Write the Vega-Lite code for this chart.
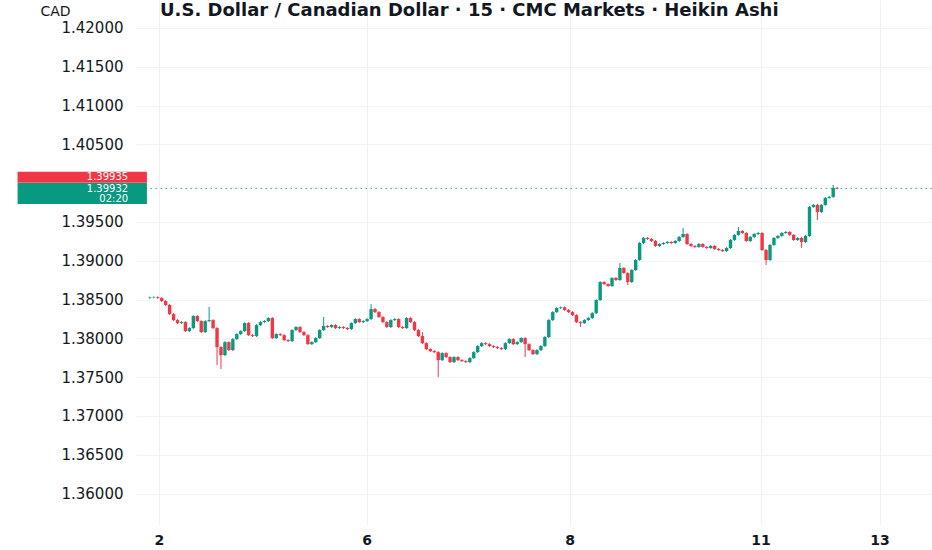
{
  "$schema": "https://vega.github.io/schema/vega-lite/v6.json",
  "width": 796,
  "height": 525,
  "autosize": {"type": "none"},
  "padding": {"left": 136, "top": 0, "right": 0, "bottom": 25},
  "background": "#ffffff",
  "title": {
    "text": "U.S. Dollar / Canadian Dollar · 15 · CMC Markets · Heikin Ashi",
    "anchor": "start", "frame": "group", "offset": -20, "dx": 24,
    "font": "DejaVu Sans", "fontSize": 18, "fontWeight": "bold", "color": "#131722"
  },
  "datasets": {
    "bars": [
      {"i":0,"o":1.38520,"h":1.38538,"l":1.38508,"c":1.38526},
      {"i":1,"o":1.38526,"h":1.38542,"l":1.38514,"c":1.38530},
      {"i":2,"o":1.38530,"h":1.38542,"l":1.38508,"c":1.38520},
      {"i":3,"o":1.38520,"h":1.38532,"l":1.38469,"c":1.38481},
      {"i":4,"o":1.38481,"h":1.38493,"l":1.38418,"c":1.38430},
      {"i":5,"o":1.38430,"h":1.38442,"l":1.38301,"c":1.38313},
      {"i":6,"o":1.38313,"h":1.38325,"l":1.38224,"c":1.38236},
      {"i":7,"o":1.38236,"h":1.38248,"l":1.38185,"c":1.38197},
      {"i":8,"o":1.38197,"h":1.38222,"l":1.38185,"c":1.38210},
      {"i":9,"o":1.38210,"h":1.38222,"l":1.38082,"c":1.38094},
      {"i":10,"o":1.38094,"h":1.38145,"l":1.38082,"c":1.38133},
      {"i":11,"o":1.38133,"h":1.38300,"l":1.38121,"c":1.38288},
      {"i":12,"o":1.38288,"h":1.38300,"l":1.38211,"c":1.38223},
      {"i":13,"o":1.38223,"h":1.38235,"l":1.38069,"c":1.38081},
      {"i":14,"o":1.38081,"h":1.38235,"l":1.38069,"c":1.38223},
      {"i":15,"o":1.38223,"h":1.38404,"l":1.38211,"c":1.38236},
      {"i":16,"o":1.38236,"h":1.38248,"l":1.38121,"c":1.38133},
      {"i":17,"o":1.38133,"h":1.38145,"l":1.37655,"c":1.37888},
      {"i":18,"o":1.37888,"h":1.37900,"l":1.37604,"c":1.37784},
      {"i":19,"o":1.37784,"h":1.37964,"l":1.37772,"c":1.37952},
      {"i":20,"o":1.37952,"h":1.37964,"l":1.37837,"c":1.37849},
      {"i":21,"o":1.37849,"h":1.38003,"l":1.37837,"c":1.37991},
      {"i":22,"o":1.37991,"h":1.38067,"l":1.37979,"c":1.38055},
      {"i":23,"o":1.38055,"h":1.38106,"l":1.38043,"c":1.38094},
      {"i":24,"o":1.38094,"h":1.38209,"l":1.38082,"c":1.38197},
      {"i":25,"o":1.38197,"h":1.38209,"l":1.38030,"c":1.38042},
      {"i":26,"o":1.38042,"h":1.38054,"l":1.38018,"c":1.38030},
      {"i":27,"o":1.38030,"h":1.38183,"l":1.38018,"c":1.38171},
      {"i":28,"o":1.38171,"h":1.38222,"l":1.38159,"c":1.38210},
      {"i":29,"o":1.38210,"h":1.38235,"l":1.38198,"c":1.38223},
      {"i":30,"o":1.38223,"h":1.38274,"l":1.38211,"c":1.38262},
      {"i":31,"o":1.38262,"h":1.38274,"l":1.37992,"c":1.38004},
      {"i":32,"o":1.38004,"h":1.38067,"l":1.37992,"c":1.38055},
      {"i":33,"o":1.38055,"h":1.38067,"l":1.38030,"c":1.38042},
      {"i":34,"o":1.38042,"h":1.38054,"l":1.37966,"c":1.37978},
      {"i":35,"o":1.37978,"h":1.37990,"l":1.37953,"c":1.37965},
      {"i":36,"o":1.37965,"h":1.38119,"l":1.37953,"c":1.38107},
      {"i":37,"o":1.38107,"h":1.38158,"l":1.38095,"c":1.38146},
      {"i":38,"o":1.38146,"h":1.38158,"l":1.38069,"c":1.38081},
      {"i":39,"o":1.38081,"h":1.38093,"l":1.38030,"c":1.38042},
      {"i":40,"o":1.38042,"h":1.38054,"l":1.37914,"c":1.37926},
      {"i":41,"o":1.37926,"h":1.37964,"l":1.37914,"c":1.37952},
      {"i":42,"o":1.37952,"h":1.38016,"l":1.37940,"c":1.38004},
      {"i":43,"o":1.38004,"h":1.38119,"l":1.37992,"c":1.38107},
      {"i":44,"o":1.38107,"h":1.38275,"l":1.38095,"c":1.38159},
      {"i":45,"o":1.38159,"h":1.38171,"l":1.38134,"c":1.38146},
      {"i":46,"o":1.38146,"h":1.38183,"l":1.38134,"c":1.38171},
      {"i":47,"o":1.38171,"h":1.38183,"l":1.38121,"c":1.38133},
      {"i":48,"o":1.38133,"h":1.38158,"l":1.38121,"c":1.38146},
      {"i":49,"o":1.38146,"h":1.38158,"l":1.38121,"c":1.38133},
      {"i":50,"o":1.38133,"h":1.38145,"l":1.38108,"c":1.38120},
      {"i":51,"o":1.38120,"h":1.38209,"l":1.38108,"c":1.38197},
      {"i":52,"o":1.38197,"h":1.38261,"l":1.38185,"c":1.38249},
      {"i":53,"o":1.38249,"h":1.38261,"l":1.38198,"c":1.38210},
      {"i":54,"o":1.38210,"h":1.38235,"l":1.38198,"c":1.38223},
      {"i":55,"o":1.38223,"h":1.38261,"l":1.38211,"c":1.38249},
      {"i":56,"o":1.38249,"h":1.38442,"l":1.38237,"c":1.38378},
      {"i":57,"o":1.38378,"h":1.38390,"l":1.38327,"c":1.38339},
      {"i":58,"o":1.38339,"h":1.38351,"l":1.38263,"c":1.38275},
      {"i":59,"o":1.38275,"h":1.38287,"l":1.38198,"c":1.38210},
      {"i":60,"o":1.38210,"h":1.38222,"l":1.38134,"c":1.38146},
      {"i":61,"o":1.38146,"h":1.38248,"l":1.38134,"c":1.38236},
      {"i":62,"o":1.38236,"h":1.38261,"l":1.38224,"c":1.38249},
      {"i":63,"o":1.38249,"h":1.38261,"l":1.38134,"c":1.38146},
      {"i":64,"o":1.38146,"h":1.38158,"l":1.38121,"c":1.38133},
      {"i":65,"o":1.38133,"h":1.38274,"l":1.38121,"c":1.38262},
      {"i":66,"o":1.38262,"h":1.38274,"l":1.38198,"c":1.38210},
      {"i":67,"o":1.38210,"h":1.38222,"l":1.38095,"c":1.38107},
      {"i":68,"o":1.38107,"h":1.38119,"l":1.38018,"c":1.38030},
      {"i":69,"o":1.38030,"h":1.38081,"l":1.37927,"c":1.37939},
      {"i":70,"o":1.37939,"h":1.37951,"l":1.37850,"c":1.37862},
      {"i":71,"o":1.37862,"h":1.37874,"l":1.37824,"c":1.37836},
      {"i":72,"o":1.37836,"h":1.37848,"l":1.37811,"c":1.37823},
      {"i":73,"o":1.37823,"h":1.37835,"l":1.37501,"c":1.37720},
      {"i":74,"o":1.37720,"h":1.37822,"l":1.37708,"c":1.37810},
      {"i":75,"o":1.37810,"h":1.37822,"l":1.37747,"c":1.37759},
      {"i":76,"o":1.37759,"h":1.37771,"l":1.37682,"c":1.37694},
      {"i":77,"o":1.37694,"h":1.37771,"l":1.37682,"c":1.37759},
      {"i":78,"o":1.37759,"h":1.37771,"l":1.37708,"c":1.37720},
      {"i":79,"o":1.37720,"h":1.37732,"l":1.37695,"c":1.37707},
      {"i":80,"o":1.37707,"h":1.37719,"l":1.37682,"c":1.37694},
      {"i":81,"o":1.37694,"h":1.37758,"l":1.37682,"c":1.37746},
      {"i":82,"o":1.37746,"h":1.37835,"l":1.37734,"c":1.37823},
      {"i":83,"o":1.37823,"h":1.37913,"l":1.37811,"c":1.37901},
      {"i":84,"o":1.37901,"h":1.37951,"l":1.37889,"c":1.37939},
      {"i":85,"o":1.37939,"h":1.37951,"l":1.37914,"c":1.37926},
      {"i":86,"o":1.37926,"h":1.37938,"l":1.37889,"c":1.37901},
      {"i":87,"o":1.37901,"h":1.37913,"l":1.37876,"c":1.37888},
      {"i":88,"o":1.37888,"h":1.37900,"l":1.37863,"c":1.37875},
      {"i":89,"o":1.37875,"h":1.37887,"l":1.37850,"c":1.37862},
      {"i":90,"o":1.37862,"h":1.37951,"l":1.37850,"c":1.37939},
      {"i":91,"o":1.37939,"h":1.38003,"l":1.37927,"c":1.37991},
      {"i":92,"o":1.37991,"h":1.38003,"l":1.37914,"c":1.37926},
      {"i":93,"o":1.37926,"h":1.37964,"l":1.37914,"c":1.37952},
      {"i":94,"o":1.37952,"h":1.38016,"l":1.37940,"c":1.38004},
      {"i":95,"o":1.38004,"h":1.38016,"l":1.37759,"c":1.37926},
      {"i":96,"o":1.37926,"h":1.37938,"l":1.37837,"c":1.37849},
      {"i":97,"o":1.37849,"h":1.37861,"l":1.37785,"c":1.37797},
      {"i":98,"o":1.37797,"h":1.37861,"l":1.37785,"c":1.37849},
      {"i":99,"o":1.37849,"h":1.37913,"l":1.37837,"c":1.37901},
      {"i":100,"o":1.37901,"h":1.38029,"l":1.37889,"c":1.38017},
      {"i":101,"o":1.38017,"h":1.38248,"l":1.38005,"c":1.38236},
      {"i":102,"o":1.38236,"h":1.38351,"l":1.38224,"c":1.38339},
      {"i":103,"o":1.38339,"h":1.38403,"l":1.38327,"c":1.38391},
      {"i":104,"o":1.38391,"h":1.38412,"l":1.38379,"c":1.38400},
      {"i":105,"o":1.38400,"h":1.38412,"l":1.38353,"c":1.38365},
      {"i":106,"o":1.38365,"h":1.38377,"l":1.38327,"c":1.38339},
      {"i":107,"o":1.38339,"h":1.38351,"l":1.38288,"c":1.38300},
      {"i":108,"o":1.38300,"h":1.38312,"l":1.38198,"c":1.38210},
      {"i":109,"o":1.38210,"h":1.38222,"l":1.38146,"c":1.38197},
      {"i":110,"o":1.38197,"h":1.38248,"l":1.38185,"c":1.38236},
      {"i":111,"o":1.38236,"h":1.38274,"l":1.38224,"c":1.38262},
      {"i":112,"o":1.38262,"h":1.38338,"l":1.38250,"c":1.38326},
      {"i":113,"o":1.38326,"h":1.38506,"l":1.38314,"c":1.38494},
      {"i":114,"o":1.38494,"h":1.38738,"l":1.38482,"c":1.38726},
      {"i":115,"o":1.38726,"h":1.38738,"l":1.38688,"c":1.38700},
      {"i":116,"o":1.38700,"h":1.38712,"l":1.38663,"c":1.38675},
      {"i":117,"o":1.38675,"h":1.38790,"l":1.38663,"c":1.38778},
      {"i":118,"o":1.38778,"h":1.38790,"l":1.38740,"c":1.38752},
      {"i":119,"o":1.38752,"h":1.38971,"l":1.38740,"c":1.38907},
      {"i":120,"o":1.38907,"h":1.38919,"l":1.38830,"c":1.38842},
      {"i":121,"o":1.38842,"h":1.38854,"l":1.38688,"c":1.38726},
      {"i":122,"o":1.38726,"h":1.38893,"l":1.38714,"c":1.38881},
      {"i":123,"o":1.38881,"h":1.39022,"l":1.38869,"c":1.39010},
      {"i":124,"o":1.39010,"h":1.39241,"l":1.38998,"c":1.39229},
      {"i":125,"o":1.39229,"h":1.39306,"l":1.39217,"c":1.39294},
      {"i":126,"o":1.39294,"h":1.39306,"l":1.39269,"c":1.39281},
      {"i":127,"o":1.39281,"h":1.39293,"l":1.39243,"c":1.39255},
      {"i":128,"o":1.39255,"h":1.39267,"l":1.39179,"c":1.39191},
      {"i":129,"o":1.39191,"h":1.39228,"l":1.39179,"c":1.39216},
      {"i":130,"o":1.39216,"h":1.39241,"l":1.39204,"c":1.39229},
      {"i":131,"o":1.39229,"h":1.39254,"l":1.39217,"c":1.39242},
      {"i":132,"o":1.39242,"h":1.39254,"l":1.39217,"c":1.39229},
      {"i":133,"o":1.39229,"h":1.39267,"l":1.39217,"c":1.39255},
      {"i":134,"o":1.39255,"h":1.39319,"l":1.39243,"c":1.39307},
      {"i":135,"o":1.39307,"h":1.39423,"l":1.39295,"c":1.39345},
      {"i":136,"o":1.39345,"h":1.39357,"l":1.39204,"c":1.39216},
      {"i":137,"o":1.39216,"h":1.39228,"l":1.39179,"c":1.39191},
      {"i":138,"o":1.39191,"h":1.39203,"l":1.39166,"c":1.39178},
      {"i":139,"o":1.39178,"h":1.39228,"l":1.39166,"c":1.39216},
      {"i":140,"o":1.39216,"h":1.39228,"l":1.39166,"c":1.39178},
      {"i":141,"o":1.39178,"h":1.39190,"l":1.39153,"c":1.39165},
      {"i":142,"o":1.39165,"h":1.39203,"l":1.39153,"c":1.39191},
      {"i":143,"o":1.39191,"h":1.39203,"l":1.39140,"c":1.39152},
      {"i":144,"o":1.39152,"h":1.39164,"l":1.39127,"c":1.39139},
      {"i":145,"o":1.39139,"h":1.39151,"l":1.39114,"c":1.39126},
      {"i":146,"o":1.39126,"h":1.39177,"l":1.39114,"c":1.39165},
      {"i":147,"o":1.39165,"h":1.39280,"l":1.39153,"c":1.39268},
      {"i":148,"o":1.39268,"h":1.39345,"l":1.39256,"c":1.39333},
      {"i":149,"o":1.39333,"h":1.39436,"l":1.39321,"c":1.39384},
      {"i":150,"o":1.39384,"h":1.39396,"l":1.39346,"c":1.39358},
      {"i":151,"o":1.39358,"h":1.39370,"l":1.39243,"c":1.39255},
      {"i":152,"o":1.39255,"h":1.39319,"l":1.39243,"c":1.39307},
      {"i":153,"o":1.39307,"h":1.39357,"l":1.39295,"c":1.39345},
      {"i":154,"o":1.39345,"h":1.39370,"l":1.39333,"c":1.39358},
      {"i":155,"o":1.39358,"h":1.39370,"l":1.39127,"c":1.39139},
      {"i":156,"o":1.39139,"h":1.39151,"l":1.38946,"c":1.39010},
      {"i":157,"o":1.39010,"h":1.39216,"l":1.38998,"c":1.39204},
      {"i":158,"o":1.39204,"h":1.39306,"l":1.39192,"c":1.39294},
      {"i":159,"o":1.39294,"h":1.39332,"l":1.39282,"c":1.39320},
      {"i":160,"o":1.39320,"h":1.39370,"l":1.39308,"c":1.39358},
      {"i":161,"o":1.39358,"h":1.39383,"l":1.39346,"c":1.39371},
      {"i":162,"o":1.39371,"h":1.39383,"l":1.39321,"c":1.39333},
      {"i":163,"o":1.39333,"h":1.39345,"l":1.39256,"c":1.39268},
      {"i":164,"o":1.39268,"h":1.39306,"l":1.39256,"c":1.39294},
      {"i":165,"o":1.39294,"h":1.39306,"l":1.39165,"c":1.39242},
      {"i":166,"o":1.39242,"h":1.39332,"l":1.39230,"c":1.39320},
      {"i":167,"o":1.39320,"h":1.39706,"l":1.39308,"c":1.39694},
      {"i":168,"o":1.39694,"h":1.39732,"l":1.39682,"c":1.39720},
      {"i":169,"o":1.39720,"h":1.39732,"l":1.39526,"c":1.39629},
      {"i":170,"o":1.39629,"h":1.39732,"l":1.39617,"c":1.39720},
      {"i":171,"o":1.39720,"h":1.39822,"l":1.39708,"c":1.39810},
      {"i":172,"o":1.39810,"h":1.39835,"l":1.39798,"c":1.39823},
      {"i":173,"o":1.39823,"h":1.39978,"l":1.39811,"c":1.39939},
      {"i":174,"o":1.39939,"h":1.39951,"l":1.39920,"c":1.39932}
    ],
    "tags": [
      {"kind": "ask", "label": "1.39935", "price": 1.39935},
      {"kind": "bid", "label": "1.39932", "price": 1.39932},
      {"kind": "timer", "label": "02:20", "price": 1.39932}
    ]
  },
  "encoding": {
    "x": {
      "type": "quantitative",
      "scale": {"domain": [-2.25, 196.75], "nice": false, "zero": false},
      "axis": {
        "title": null,
        "values": [2.25, 54.9, 106.25, 154.6, 184.75],
        "labelExpr": "datum.value < 10 ? '2' : datum.value < 80 ? '6' : datum.value < 130 ? '8' : datum.value < 170 ? '11' : '13'",
        "labelFont": "DejaVu Sans", "labelFontSize": 14, "labelFontWeight": "bold",
        "labelColor": "#131722", "labelPadding": 8,
        "ticks": false, "domain": false,
        "grid": true, "gridColor": "#eef0f3", "gridWidth": 1
      }
    },
    "y": {
      "type": "quantitative",
      "scale": {"domain": [1.35595, 1.423608], "nice": false, "zero": false},
      "axis": {
        "title": "CAD", "titleAngle": 0, "titleX": -81, "titleY": 11,
        "titleAlign": "center", "titleBaseline": "middle",
        "titleFont": "DejaVu Sans", "titleFontSize": 14, "titleFontWeight": "normal", "titleColor": "#131722",
        "values": [1.36, 1.365, 1.37, 1.375, 1.38, 1.385, 1.39, 1.395, 1.405, 1.41, 1.415, 1.42],
        "format": ".5f",
        "labelFont": "DejaVu Sans", "labelFontSize": 15, "labelColor": "#131722",
        "labelAlign": "right", "labelPadding": 13,
        "ticks": false, "domain": false,
        "grid": true, "gridColor": "#f2f3f5", "gridWidth": 1
      }
    }
  },
  "layer": [
    {
      "data": {"name": "bars"},
      "mark": {"type": "rule", "strokeWidth": 1},
      "encoding": {
        "x": {"field": "i", "type": "quantitative"},
        "y": {"field": "l", "type": "quantitative"},
        "y2": {"field": "h"},
        "color": {"condition": {"test": "datum.c >= datum.o", "value": "#089981"}, "value": "#f23645"}
      }
    },
    {
      "data": {"name": "bars"},
      "mark": {"type": "bar", "width": 3.4},
      "encoding": {
        "x": {"field": "i", "type": "quantitative"},
        "y": {"field": "o", "type": "quantitative"},
        "y2": {"field": "c"},
        "color": {"condition": {"test": "datum.c >= datum.o", "value": "#089981"}, "value": "#f23645"}
      }
    },
    {
      "data": {"name": "tags"},
      "transform": [{"filter": "datum.kind == 'bid'"}],
      "mark": {"type": "rule", "color": "#089981", "strokeWidth": 1, "strokeDash": [1.5, 3.5], "opacity": 0.8},
      "encoding": {"y": {"field": "price", "type": "quantitative"}}
    },
    {
      "data": {"name": "tags"},
      "transform": [{"filter": "datum.kind == 'ask'"}],
      "mark": {"type": "rule", "color": "#f23645", "strokeWidth": 11, "strokeCap": "butt", "yOffset": -11},
      "encoding": {
        "x": {"datum": -33.5},
        "x2": {"datum": -0.75},
        "y": {"field": "price", "type": "quantitative"}
      }
    },
    {
      "data": {"name": "tags"},
      "transform": [{"filter": "datum.kind == 'bid'"}],
      "mark": {"type": "rule", "color": "#089981", "strokeWidth": 21, "strokeCap": "butt", "yOffset": 5},
      "encoding": {
        "x": {"datum": -33.5},
        "x2": {"datum": -0.75},
        "y": {"field": "price", "type": "quantitative"}
      }
    },
    {
      "data": {"name": "tags"},
      "transform": [{"filter": "datum.kind == 'ask'"}],
      "mark": {"type": "text", "align": "right", "baseline": "middle", "font": "DejaVu Sans", "fontSize": 10, "color": "#ffffff", "yOffset": -11},
      "encoding": {
        "x": {"datum": -5.5},
        "y": {"field": "price", "type": "quantitative"},
        "text": {"field": "label"}
      }
    },
    {
      "data": {"name": "tags"},
      "transform": [{"filter": "datum.kind == 'bid'"}],
      "mark": {"type": "text", "align": "right", "baseline": "middle", "font": "DejaVu Sans", "fontSize": 10, "color": "#ffffff", "yOffset": 0.5},
      "encoding": {
        "x": {"datum": -5.5},
        "y": {"field": "price", "type": "quantitative"},
        "text": {"field": "label"}
      }
    },
    {
      "data": {"name": "tags"},
      "transform": [{"filter": "datum.kind == 'timer'"}],
      "mark": {"type": "text", "align": "right", "baseline": "middle", "font": "DejaVu Sans", "fontSize": 10, "color": "#ffffff", "yOffset": 11},
      "encoding": {
        "x": {"datum": -5.5},
        "y": {"field": "price", "type": "quantitative"},
        "text": {"field": "label"}
      }
    }
  ],
  "config": {
    "view": {"stroke": null},
    "font": "DejaVu Sans"
  }
}
